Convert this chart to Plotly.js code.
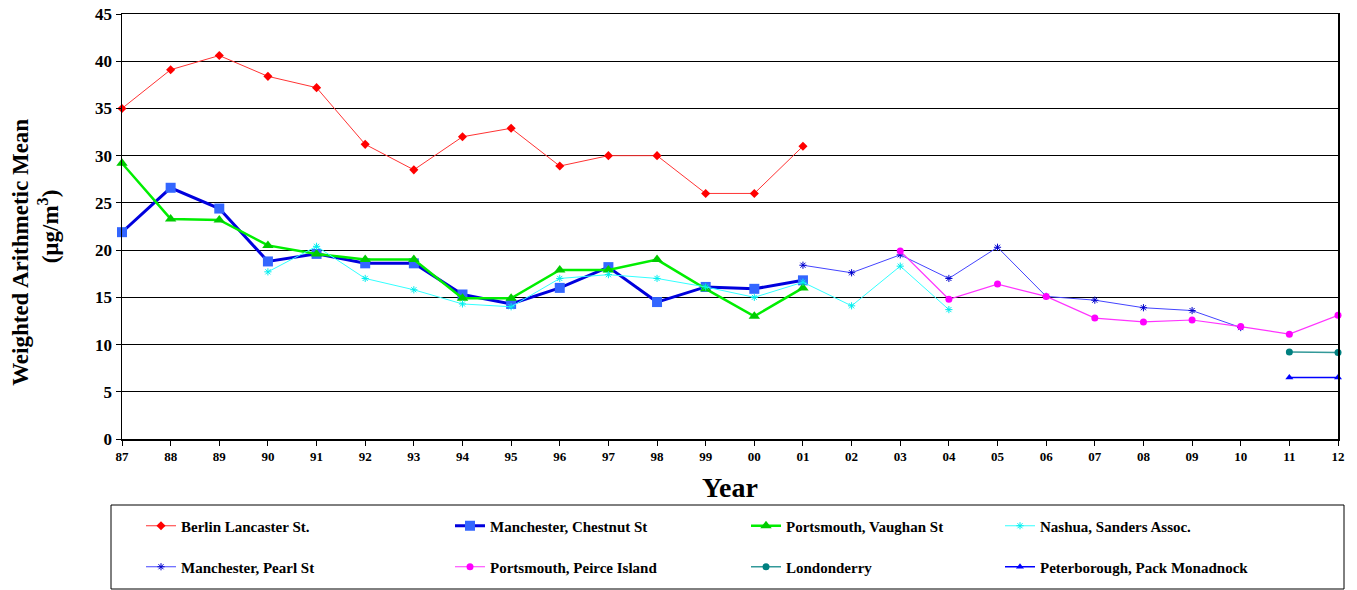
<!DOCTYPE html>
<html><head><meta charset="utf-8">
<script src="https://cdn.plot.ly/plotly-3.0.1.min.js"></script>
<style>body{margin:0;background:#fff}#c{width:1357px;height:590px}</style>
</head><body><div id="c"></div>
<script>
const years = ["87","88","89","90","91","92","93","94","95","96","97","98","99","00","01","02","03","04","05","06","07","08","09","10","11","12"];
const berlin     = [35.0,39.1,40.6,38.4,37.2,31.2,28.5,32.0,32.9,28.9,30.0,30.0,26.0,26.0,31.0,null,null,null,null,null,null,null,null,null,null,null];
const chestnut   = [21.9,26.6,24.4,18.8,19.6,18.6,18.6,15.3,14.3,16.0,18.2,14.5,16.1,15.9,16.8,null,null,null,null,null,null,null,null,null,null,null];
const vaughan    = [29.2,23.3,23.2,20.5,19.6,19.0,19.0,14.9,14.9,17.9,17.9,19.0,15.9,13.0,16.0,null,null,null,null,null,null,null,null,null,null,null];
const nashua     = [null,null,null,17.7,20.4,17.0,15.8,14.3,14.0,17.0,17.4,17.0,16.1,15.0,16.6,14.1,18.3,13.7,null,null,null,null,null,null,null,null];
const pearl      = [null,null,null,null,null,null,null,null,null,null,null,null,null,null,18.4,17.6,19.5,17.0,20.3,15.1,14.7,13.9,13.6,11.8,null,null];
const peirce     = [null,null,null,null,null,null,null,null,null,null,null,null,null,null,null,null,19.9,14.8,16.4,15.1,12.8,12.4,12.6,11.9,11.1,13.1];
const londonderry= [null,null,null,null,null,null,null,null,null,null,null,null,null,null,null,null,null,null,null,null,null,null,null,null,9.2,9.15];
const peterboro  = [null,null,null,null,null,null,null,null,null,null,null,null,null,null,null,null,null,null,null,null,null,null,null,null,6.5,6.5];
const names = ["Berlin Lancaster St.","Manchester, Chestnut St","Portsmouth, Vaughan St","Nashua, Sanders Assoc.","Manchester, Pearl St","Portsmouth, Peirce Island","Londonderry","Peterborough, Pack Monadnock"];

const F = "'Liberation Serif', 'Times New Roman', serif";
function tr(y, name, lc, lw, sym, ms, mc, leg){
  return {x: years, y: y, name: name, type:'scatter', mode:'lines+markers', connectgaps:false, cliponaxis:false,
    line:{color:lc, width:lw}, marker:{symbol:sym, size:ms, color:mc}, legend: leg};
}
const data = [
  tr(berlin, names[0], '#FF3333', 1, 'diamond', 7, '#FF0000', 'legend'),
  tr(chestnut, names[1], '#0000DD', 3, 'square', 10, '#3366FF', 'legend2'),
  tr(vaughan, names[2], '#00EE00', 2.5, 'triangle-up', 10, '#00CC00', 'legend3'),
  tr(nashua, names[3], '#33FFFF', 1, 'asterisk-open', 6, '#00EEEE', 'legend4'),
  tr(pearl, names[4], '#4444FF', 1, 'asterisk-open', 6, '#0000CC', 'legend5'),
  tr(peirce, names[5], '#FF33FF', 1.2, 'circle', 7, '#FF00FF', 'legend6'),
  tr(londonderry, names[6], '#339999', 1.5, 'circle', 7, '#008080', 'legend7'),
  tr(peterboro, names[7], '#0000FF', 1.5, 'triangle-up', 7, '#0000FF', 'legend8')
];
const L = 122, W = 1216, B = 439, H = 425;
const px = v => (v - L) / W;
const py = v => -(v - B) / H;
const colX = [141, 450, 746, 1000];
const rowY = [526, 567];
function leg(i){
  return {x: px(colX[i%4]), xanchor:'left', y: py(rowY[Math.floor(i/4)]), yanchor:'middle',
    bgcolor:'rgba(0,0,0,0)', borderwidth:0, font:{family:F, size:15, color:'#000', weight:'bold'}, itemclick:false};
}
const pad = '\u00A0'.repeat(9);
const layout = {
  width:1357, height:590, margin:{l:L, r:19, t:14, b:151, autoexpand:false},
  paper_bgcolor:'#fff', plot_bgcolor:'#fff', showlegend:true,
  font:{family:F, color:'#000'},
  xaxis:{type:'category', range:[0,25], showgrid:false, showline:true, linecolor:'#000', linewidth:1.5, mirror:true,
    ticks:'outside', ticklen:5, tickcolor:'#000', tickfont:{family:F, size:13, weight:'bold'},
    title:{text:'Year', font:{family:F, size:28, weight:'bold'}, standoff:14}},
  yaxis:{range:[0,45], dtick:5, showgrid:true, gridcolor:'#000', gridwidth:1, showline:true, linecolor:'#000', linewidth:1.5, mirror:true,
    ticks:'outside', ticklen:5, tickcolor:'#000', zeroline:false, tickfont:{family:F, size:17, weight:'bold'},
    title:{text:'Weighted Arithmetic Mean' + pad + '<br>(µg/m<sup>3</sup>)', font:{family:F, size:23, weight:'bold'}, standoff:30}},
  shapes:[{type:'rect', xref:'paper', yref:'paper', x0:px(111), x1:px(1344), y0:py(589), y1:py(505), line:{color:'#000', width:1}}]
};
for (let i=0;i<8;i++){ layout[i===0?'legend':'legend'+(i+1)] = leg(i); }
Plotly.newPlot('c', data, layout, {displayModeBar:false, staticPlot:true});
</script></body></html>
